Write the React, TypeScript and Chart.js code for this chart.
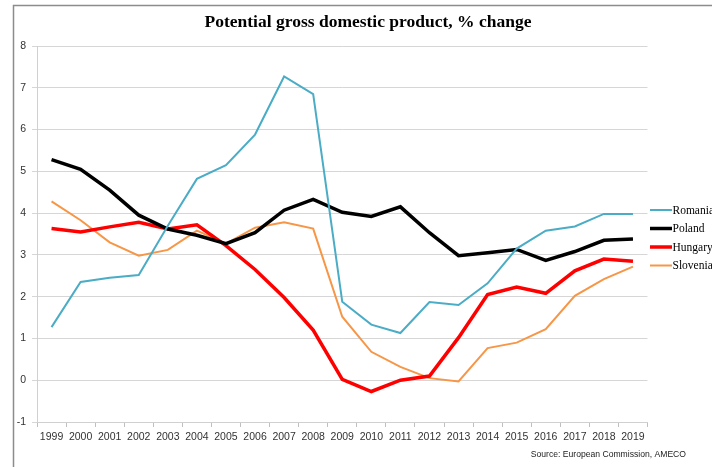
import React, { useEffect, useRef } from "react";
import { Chart, registerables } from "chart.js";

Chart.register(...registerables);

const TITLE = "Potential gross domestic product, % change";
const SOURCE = "Source: European Commission, AMECO";

const years = [
  "1999", "2000", "2001", "2002", "2003", "2004", "2005", "2006", "2007", "2008",
  "2009", "2010", "2011", "2012", "2013", "2014", "2015", "2016", "2017", "2018", "2019",
];

const romania = [1.27, 2.35, 2.45, 2.52, 3.7, 4.82, 5.15, 5.88, 7.27, 6.85, 1.88, 1.33, 1.13, 1.87, 1.8, 2.32, 3.15, 3.58, 3.68, 3.98, 3.98];
const poland = [5.28, 5.05, 4.55, 3.95, 3.62, 3.47, 3.27, 3.53, 4.07, 4.33, 4.02, 3.92, 4.15, 3.53, 2.98, 3.05, 3.13, 2.87, 3.08, 3.35, 3.38];
const hungary = [3.63, 3.55, 3.67, 3.78, 3.62, 3.72, 3.22, 2.65, 1.98, 1.2, 0.02, -0.27, 0.0, 0.1, 1.02, 2.05, 2.23, 2.08, 2.62, 2.9, 2.85];
const slovenia = [4.28, 3.83, 3.3, 2.98, 3.12, 3.58, 3.27, 3.65, 3.78, 3.63, 1.52, 0.68, 0.32, 0.05, -0.03, 0.77, 0.9, 1.22, 2.02, 2.42, 2.72];

const seriesNames = ["Romania", "Poland", "Hungary", "Slovenia"];
const seriesColors = ["#4bacc6", "#000000", "#ff0000", "#f79646"];
const seriesWidths = [2, 3.5, 3.5, 2];
const seriesValues = [romania, poland, hungary, slovenia];

const yMin = -1;
const yMax = 8;

const decorPlugin = {
  id: "decor",
  beforeDraw(chart: any) {
    const ctx = chart.ctx;
    ctx.save();
    ctx.fillStyle = "#ffffff";
    ctx.fillRect(0, 0, chart.width, chart.height);
    ctx.strokeStyle = "#8c8c8c";
    ctx.lineWidth = 1.5;
    ctx.beginPath();
    ctx.moveTo(13.5, chart.height + 2);
    ctx.lineTo(13.5, 5.5);
    ctx.lineTo(chart.width + 2, 5.5);
    ctx.stroke();
    ctx.restore();
  },
  afterDraw(chart: any) {
    const ctx = chart.ctx;
    ctx.save();
    // title
    ctx.fillStyle = "#000000";
    ctx.font = "bold 17.5px 'Liberation Serif', serif";
    ctx.textAlign = "center";
    ctx.textBaseline = "middle";
    ctx.fillText(TITLE, 368, 22);
    // legend
    const ys = [210, 228.5, 247, 265.5];
    ctx.font = "11.5px 'Liberation Serif', serif";
    ctx.textAlign = "left";
    seriesNames.forEach((n, i) => {
      ctx.strokeStyle = seriesColors[i];
      ctx.lineWidth = seriesWidths[i];
      ctx.beginPath();
      ctx.moveTo(650, ys[i]);
      ctx.lineTo(672, ys[i]);
      ctx.stroke();
      ctx.fillStyle = "#000000";
      ctx.fillText(n, 672.5, ys[i] + 0.5);
    });
    // source
    ctx.font = "8.6px 'Liberation Sans', sans-serif";
    ctx.textAlign = "right";
    ctx.fillStyle = "#222222";
    ctx.fillText(SOURCE, 686, 455);
    ctx.restore();
  },
};

export default function App() {
  const ref = useRef<HTMLCanvasElement>(null);
  useEffect(() => {
    if (!ref.current) return;
    const chart = new Chart(ref.current, {
      type: "line",
      data: {
        labels: years,
        datasets: seriesNames.map((n, i) => ({
          label: n,
          data: seriesValues[i],
          borderColor: seriesColors[i],
          backgroundColor: seriesColors[i],
          borderWidth: seriesWidths[i],
          pointRadius: 0,
          tension: 0,
          fill: false,
        })),
      },
      options: {
        animation: false,
        responsive: false,
        devicePixelRatio: 1,
        layout: { padding: { top: 46, right: 64.5, bottom: 0, left: 0 } },
        plugins: {
          legend: { display: false },
          title: { display: false },
          tooltip: { enabled: false },
        },
        scales: {
          x: {
            offset: true,
            grid: {
              offset: true,
              drawOnChartArea: false,
              drawTicks: true,
              tickLength: 5,
              color: "#bfbfbf",
            },
            border: { color: "#d0d0d0", width: 1 },
            ticks: {
              color: "#333333",
              padding: 4,
              maxRotation: 0,
              autoSkip: false,
              font: { family: "'Liberation Sans', sans-serif", size: 10.5 },
            },
            afterFit(scale: any) {
              scale.height = 45;
            },
          },
          y: {
            min: yMin,
            max: yMax,
            ticks: {
              stepSize: 1,
              color: "#333333",
              padding: 6,
              font: { family: "'Liberation Sans', sans-serif", size: 10.5 },
            },
            grid: {
              color: "#d6d6d6",
              tickLength: 5,
              lineWidth: 1,
            },
            border: { color: "#d0d0d0", width: 1 },
            afterFit(scale: any) {
              scale.width = 37;
            },
          },
        },
      },
      plugins: [decorPlugin],
    });
    return () => chart.destroy();
  }, []);
  return (
    <div style={{ position: "fixed", left: 0, top: 0, width: 712, height: 467 }}>
      <canvas ref={ref} width={712} height={467} style={{ display: "block" }} />
    </div>
  );
}
